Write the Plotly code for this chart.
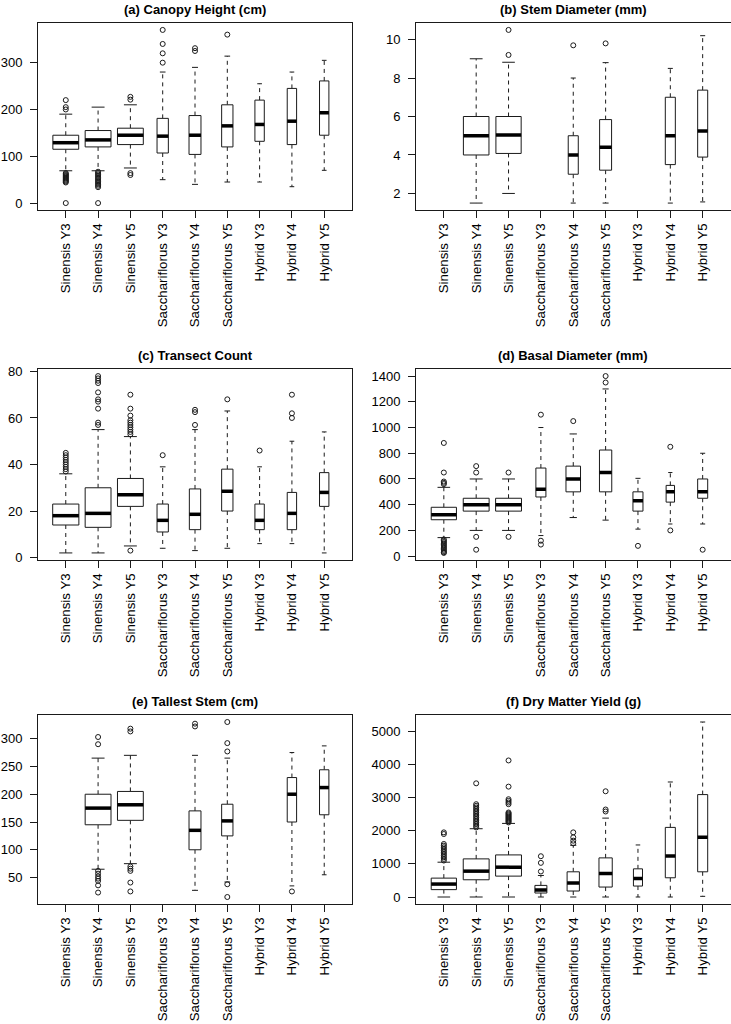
import plotly.graph_objects as go

CATEGORIES = ["Sinensis Y3", "Sinensis Y4", "Sinensis Y5",
              "Sacchariflorus Y3", "Sacchariflorus Y4", "Sacchariflorus Y5",
              "Hybrid Y3", "Hybrid Y4", "Hybrid Y5"]

# ---- (a) Canopy Height (cm)
A_TITLE = "(a) Canopy Height (cm)"
A_Q1 = [115, 120, 125, 107, 104, 120, 132, 125, 145]
A_MED = [129, 135, 145, 143, 145, 165, 168, 175, 193]
A_Q3 = [145, 155, 160, 181, 187, 210, 220, 245, 261]
A_LO = [69, 69, 75, 50, 40, 45, 45, 35, 70]
A_HI = [190, 205, 210, 280, 290, 314, 255, 280, 305]
A_N = [0.80, 0.80, 0.80, 0.35, 0.37, 0.35, 0.29, 0.29, 0.29]
A_OUT = [[200, 205, 220, 64, 62, 60, 58, 56, 54, 52, 50, 48, 46, 44, 0],
         [67, 64, 61, 58, 55, 52, 49, 46, 43, 40, 37, 34, 0],
         [221, 227, 64, 60],
         [300, 320, 340, 370],
         [325, 331],
         [360], [], [], []]
A_TICKS = [0, 100, 200, 300]

# ---- (b) Stem Diameter (mm)
B_TITLE = "(b) Stem Diameter (mm)"
B_Q1 = [None, 4.0, 4.08, None, 3.0, 3.21, None, 3.5, 3.89]
B_MED = [None, 5.0, 5.04, None, 4.0, 4.4, None, 5.0, 5.24]
B_Q3 = [None, 6.0, 6.0, None, 5.0, 5.84, None, 7.0, 7.37]
B_LO = [None, 1.5, 2.0, None, 1.5, 1.5, None, 1.5, 1.56]
B_HI = [None, 9.0, 8.82, None, 8.0, 8.8, None, 8.5, 10.2]
B_N = [None, 0.79, 0.78, None, 0.31, 0.37, None, 0.31, 0.31]
B_OUT = [[], [], [9.2, 10.5], [], [9.7], [9.8], [], [], []]
B_TICKS = [2, 4, 6, 8, 10]

# ---- (c) Transect Count
C_TITLE = "(c) Transect Count"
C_Q1 = [14, 13, 22, 11, 12, 20, 12, 12, 22]
C_MED = [18, 19, 27, 16, 18.6, 28.5, 16, 19, 28]
C_Q3 = [23, 30, 34, 23, 29.5, 38, 23, 28, 36.5]
C_LO = [2, 2, 5, 4, 3, 4, 6, 6, 2]
C_HI = [36, 55, 52, 39, 55, 63, 39, 50, 54]
C_N = [0.81, 0.80, 0.80, 0.35, 0.35, 0.35, 0.29, 0.29, 0.29]
C_OUT = [[37, 38, 39, 40, 41, 42, 43, 44, 45],
         [57, 58, 64, 67, 68, 71, 75, 76, 77, 78],
         [53, 54, 55, 56, 57, 58, 59, 61, 64, 70, 3],
         [44], [57, 62.5, 63.5], [68], [46], [60, 62, 70], []]
C_TICKS = [0, 20, 40, 60, 80]

# ---- (d) Basal Diameter (mm)
D_TITLE = "(d) Basal Diameter (mm)"
D_Q1 = [283, 350, 350, 460, 500, 500, 350, 420, 450]
D_MED = [322, 400, 400, 520, 600, 650, 430, 500, 500]
D_Q3 = [380, 450, 450, 685, 700, 825, 500, 550, 600]
D_LO = [144, 200, 200, 160, 300, 280, 210, 250, 250]
D_HI = [535, 600, 600, 1000, 950, 1300, 605, 650, 800]
D_N = [0.78, 0.80, 0.80, 0.31, 0.45, 0.38, 0.31, 0.26, 0.31]
D_OUT = [[560, 570, 580, 650, 880, 130, 120, 110, 100, 90, 80, 70, 60, 50, 40, 30, 25],
         [650, 700, 150, 50],
         [650, 150],
         [1100, 120, 90],
         [1050],
         [1350, 1400],
         [80], [850, 200], [50]]
D_TICKS = [0, 200, 400, 600, 800, 1000, 1200, 1400]

# ---- (e) Tallest Stem (cm)
E_TITLE = "(e) Tallest Stem (cm)"
E_Q1 = [None, 145, 153, None, 100, 125, None, 150, 163]
E_MED = [None, 175, 181, None, 135, 152, None, 200, 212]
E_Q3 = [None, 200, 205, None, 170, 182, None, 230, 244]
E_LO = [None, 65, 75, None, 27, 42, None, 35, 55]
E_HI = [None, 265, 270, None, 270, 265, None, 275, 287]
E_N = [None, 0.80, 0.80, None, 0.37, 0.35, None, 0.29, 0.29]
E_OUT = [[], [290, 303, 62, 57, 52, 48, 44, 36, 23],
         [313, 318, 70, 66, 62, 41, 25],
         [], [322, 327], [277, 292, 330, 38, 15],
         [], [25], []]
E_TICKS = [50, 100, 150, 200, 250, 300]

# ---- (f) Dry Matter Yield (g)
F_TITLE = "(f) Dry Matter Yield (g)"
F_Q1 = [222, 520, 630, 120, 180, 300, 330, 580, 760]
F_MED = [390, 780, 900, 210, 420, 710, 560, 1240, 1800]
F_Q3 = [570, 1150, 1270, 350, 760, 1180, 850, 2100, 3090]
F_LO = [0, 0, 0, 0, 0, 0, 0, 0, 20]
F_HI = [1050, 2060, 2220, 650, 1560, 2380, 1570, 3470, 5280]
F_N = [0.78, 0.80, 0.80, 0.37, 0.38, 0.41, 0.28, 0.31, 0.31]
F_OUT = [[1100, 1150, 1200, 1250, 1300, 1350, 1400, 1450, 1500, 1550, 1600, 1900, 1950],
         [2100, 2150, 2200, 2250, 2300, 2350, 2400, 2450, 2500, 2550, 2600, 2650, 2700, 2750, 2800, 3430],
         [2250, 2280, 2310, 2340, 2370, 2400, 2430, 2460, 2490, 2520, 2550, 2800, 2850, 2900, 2950, 3330, 4120],
         [770, 1030, 1230],
         [1620, 1700, 1800, 1950],
         [2580, 2640, 3190],
         [], [], []]
F_TICKS = [0, 1000, 2000, 3000, 4000, 5000]

PANELS = [
    (A_TITLE, A_Q1, A_MED, A_Q3, A_LO, A_HI, A_N, A_OUT, A_TICKS),
    (B_TITLE, B_Q1, B_MED, B_Q3, B_LO, B_HI, B_N, B_OUT, B_TICKS),
    (C_TITLE, C_Q1, C_MED, C_Q3, C_LO, C_HI, C_N, C_OUT, C_TICKS),
    (D_TITLE, D_Q1, D_MED, D_Q3, D_LO, D_HI, D_N, D_OUT, D_TICKS),
    (E_TITLE, E_Q1, E_MED, E_Q3, E_LO, E_HI, E_N, E_OUT, E_TICKS),
    (F_TITLE, F_Q1, F_MED, F_Q3, F_LO, F_HI, F_N, F_OUT, F_TICKS),
]

W, H = 731, 1024
COLS_PX = [(38, 352), (416, 730.5)]
ROWS_PX = [(23, 210), (369, 560), (715, 904)]
TITLE_Y_PX = [9, 355, 701]
FONT = "Liberation Sans, Arial, Helvetica, sans-serif"
INK = "#1a1a1a"

fig = go.Figure()
layout_axes = {}
annotations = []

for k, (title, q1, med, q3, lo, hi, wid, outs, yticks) in enumerate(PANELS):
    n = k + 1
    sfx = "" if n == 1 else str(n)
    xref, yref = "x" + sfx, "y" + sfx
    row, col = divmod(k, 2)

    wx, wy, cx, cy, bx, by, mx, my, ox, oy = ([] for _ in range(10))
    allv = []
    for i in range(len(CATEGORIES)):
        x = i + 1
        for v in outs[i]:
            ox.append(x)
            oy.append(v)
            allv.append(v)
        if q1[i] is None:
            continue
        h = wid[i] / 2.0
        s = h / 2.0
        wx += [x, x, None, x, x, None]
        wy += [q3[i], hi[i], None, q1[i], lo[i], None]
        cx += [x - s, x + s, None, x - s, x + s, None]
        cy += [hi[i], hi[i], None, lo[i], lo[i], None]
        bx += [x - h, x + h, x + h, x - h, x - h, None]
        by += [q1[i], q1[i], q3[i], q3[i], q1[i], None]
        mx += [x - h, x + h, None]
        my += [med[i], med[i], None]
        allv += [lo[i], hi[i]]

    common = dict(xaxis=xref, yaxis=yref, showlegend=False, hoverinfo="skip", mode="lines")
    fig.add_trace(go.Scatter(x=wx, y=wy, line=dict(color=INK, width=1, dash="4px,4px"), **common))
    fig.add_trace(go.Scatter(x=cx, y=cy, line=dict(color=INK, width=1), **common))
    fig.add_trace(go.Scatter(x=bx, y=by, fill="toself", fillcolor="white",
                             line=dict(color=INK, width=1), **common))
    fig.add_trace(go.Scatter(x=mx, y=my, line=dict(color="black", width=3.5), **common))
    fig.add_trace(go.Scatter(x=ox, y=oy, mode="markers", xaxis=xref, yaxis=yref,
                             showlegend=False, hoverinfo="skip",
                             marker=dict(symbol="circle-open", size=5, color=INK,
                                         line=dict(width=1, color=INK))))

    vmin, vmax = min(allv), max(allv)
    pad = 0.04 * (vmax - vmin)
    x0, x1 = COLS_PX[col]
    top, bot = ROWS_PX[row]
    layout_axes["xaxis" + sfx] = dict(
        domain=[x0 / W, x1 / W], anchor=yref, range=[0.14, 9.86],
        tickmode="array", tickvals=list(range(1, 10)), ticktext=CATEGORIES,
        tickangle=-90, ticks="outside", ticklen=7, tickcolor=INK, tickwidth=1,
        showline=True, linecolor=INK, linewidth=1, mirror=True,
        showgrid=False, zeroline=False, automargin=False,
        tickfont=dict(family=FONT, size=13.3, color="black"), ticklabelstandoff=0)
    layout_axes["yaxis" + sfx] = dict(
        domain=[1 - bot / H, 1 - top / H], anchor=xref, range=[vmin - pad, vmax + pad],
        tickmode="array", tickvals=yticks, ticks="outside", ticklen=7, tickcolor=INK,
        tickwidth=1, showline=True, linecolor=INK, linewidth=1, mirror=True,
        showgrid=False, zeroline=False, automargin=False,
        tickfont=dict(family=FONT, size=13, color="black"), ticklabelstandoff=5)
    annotations.append(dict(
        text="<b>" + title + "</b>", xref="paper", yref="paper",
        x=(x0 + x1) / 2 / W, y=1 - TITLE_Y_PX[row] / H, xanchor="center", yanchor="middle",
        showarrow=False, font=dict(family=FONT, size=13, color="black")))

fig.update_layout(
    width=W, height=H, template="none",
    margin=dict(l=0, r=0, t=0, b=0),
    paper_bgcolor="white", plot_bgcolor="white",
    annotations=annotations, **layout_axes)

# remove the browser's default 8px page margin so the figure sits at the window origin
fig.write_html("out.html",
               config={"displayModeBar": False},
               post_script="document.body.style.margin='0';document.body.style.overflow='hidden';")
